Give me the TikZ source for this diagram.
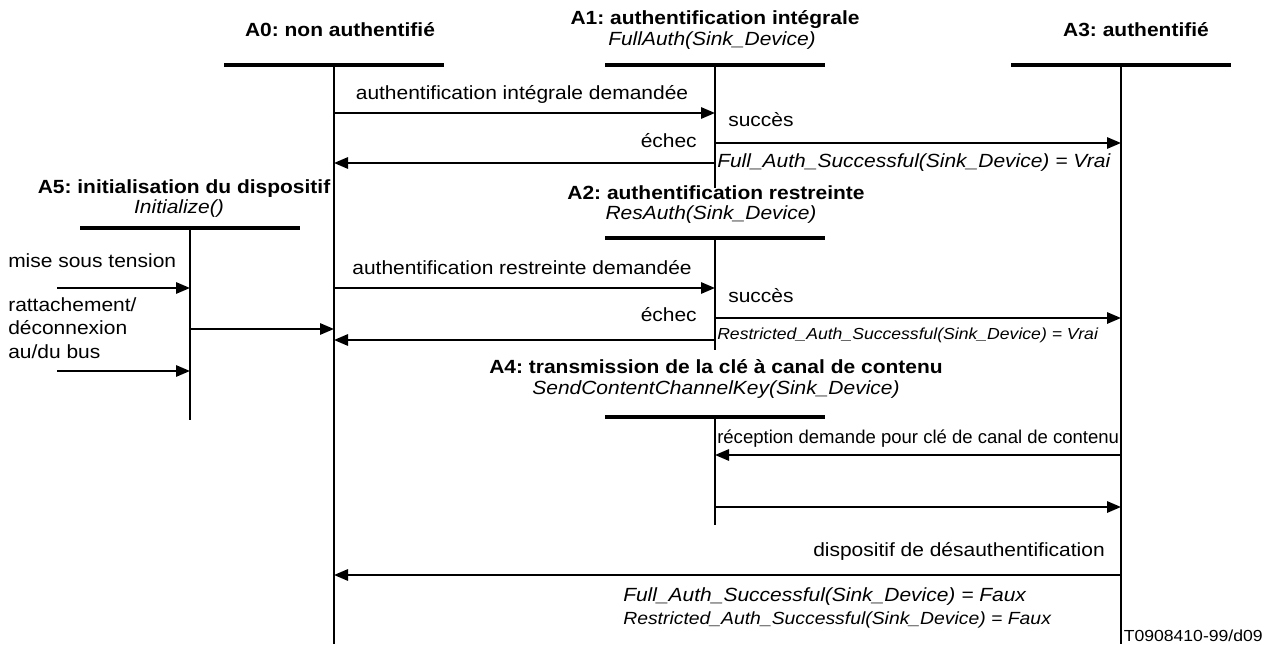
\documentclass[tikz,border=0pt]{standalone}
\usepackage{fontspec}
\setmainfont{Liberation Sans}[FakeStretch=1.1]
\newfontfamily\plainsans{Liberation Sans}
\usetikzlibrary{arrows.meta}
\frenchspacing

\tikzset{
  bar/.style={line width=3.4pt},
  life/.style={line width=1.5pt},
  msg/.style={line width=1.5pt,-{Triangle[length=10.5pt,width=8.5pt]}},
  ttl/.style={font=\fontsize{14.3}{16}\selectfont\bfseries,inner sep=0pt,anchor=base},
  subttl/.style={font=\fontsize{14.3}{16}\selectfont\itshape,inner sep=0pt,anchor=base},
  lab/.style={font=\fontsize{14.3}{16}\selectfont,inner sep=0pt},
  cond/.style={font=\fontsize{14.3}{16}\selectfont\itshape,inner sep=0pt},
  condmid/.style={font=\fontsize{13.2}{16}\selectfont\itshape,inner sep=0pt},
  condsm/.style={font=\fontsize{12}{14}\selectfont\itshape,inner sep=0pt},
  labsm/.style={font=\plainsans\fontsize{13.9}{16}\selectfont,inner sep=0pt},
  figref/.style={font=\fontsize{12}{14}\selectfont,inner sep=0pt},
}

\begin{document}
\begin{tikzpicture}[x=0.75pt,y=-0.75pt]
\useasboundingbox (0,0) rectangle (1265,644);

% state headings
\node[ttl] (t0) at (340,36) {A0: non authentifié};
\node[ttl] (t1) at (715,24) {A1: authentification intégrale};
\node[subttl] (s1) at (712,45) {FullAuth(Sink\_Device)};
\node[ttl] (t3) at (1136,36) {A3: authentifié};
\node[ttl] (t5) at (184,193) {A5: initialisation du dispositif};
\node[subttl] (s5) at (179,213) {Initialize()};
\node[ttl] (t2) at (716,199) {A2: authentification restreinte};
\node[subttl] (s2) at (711,219) {ResAuth(Sink\_Device)};
\node[ttl] (t4) at (716,373) {A4: transmission de la clé à canal de contenu};
\node[subttl] (s4) at (716,394) {SendContentChannelKey(Sink\_Device)};

% state bars
\draw[bar] (224,65) -- (444,65);
\draw[bar] (605,65) -- (825,65);
\draw[bar] (1011,65) -- (1231,65);
\draw[bar] (80,228) -- (300,228);
\draw[bar] (605,238) -- (825,238);
\draw[bar] (605,417) -- (825,417);

% lifelines
\coordinate (a0top) at (334,65);  \coordinate (a0bot) at (334,644);
\coordinate (a1top) at (715,65);  \coordinate (a1bot) at (715,188);
\coordinate (a3top) at (1121,65); \coordinate (a3bot) at (1121,644);
\coordinate (a5top) at (190,228); \coordinate (a5bot) at (190,420);
\coordinate (a2top) at (715,238); \coordinate (a2bot) at (715,350);
\coordinate (a4top) at (715,417); \coordinate (a4bot) at (715,525);
\foreach \s in {a0,a1,a3,a5,a2,a4} \draw[life] (\s top) -- (\s bot);

% message end points
\coordinate (m1a) at (334,113);  \coordinate (m1b) at (715,113);
\coordinate (m2a) at (715,143);  \coordinate (m2b) at (1121,143);
\coordinate (m3a) at (715,163);  \coordinate (m3b) at (334,163);
\coordinate (m4a) at (334,288);  \coordinate (m4b) at (715,288);
\coordinate (m5a) at (715,318);  \coordinate (m5b) at (1121,318);
\coordinate (m6a) at (715,340);  \coordinate (m6b) at (334,340);
\coordinate (p1a) at (57,288);   \coordinate (p1b) at (190,288);
\coordinate (p2a) at (57,371);   \coordinate (p2b) at (190,371);
\coordinate (p3a) at (190,329);  \coordinate (p3b) at (334,329);
\coordinate (m7a) at (1121,455); \coordinate (m7b) at (715,455);
\coordinate (m8a) at (715,507);  \coordinate (m8b) at (1121,507);
\coordinate (m9a) at (1121,575); \coordinate (m9b) at (334,575);

\foreach \m in {m1,m2,m3,m4,m5,m6,p1,p2,p3,m7,m8,m9}
  \draw[msg] (\m a) -- (\m b);

% message labels
\node[lab,anchor=base] (l1) at (522,99) {authentification intégrale demandée};
\node[lab,anchor=base west] (l2) at (728,126) {succès};
\node[cond,anchor=base west] (c2) at (717,167) {Full\_Auth\_Successful(Sink\_Device) = Vrai};
\node[lab,anchor=base east] (l3) at (697,147) {échec};

\node[lab,anchor=base] (l4) at (522,274) {authentification restreinte demandée};
\node[lab,anchor=base west] (l5) at (728,302) {succès};
\node[condsm,anchor=base west] (c5) at (717,339) {Restricted\_Auth\_Successful(Sink\_Device) = Vrai};
\node[lab,anchor=base east] (l6) at (697,321) {échec};

\node[lab,anchor=base west] (lp1) at (8,267) {mise sous tension};
\node[lab,anchor=base west] (lp2a) at (8,311) {rattachement/};
\node[lab,anchor=base west] (lp2b) at (8,334) {déconnexion};
\node[lab,anchor=base west] (lp2c) at (8,358) {au/du bus};

\node[labsm,anchor=base west] (l7) at (717,443) {réception demande pour clé de canal de contenu};

\node[lab,anchor=base east] (l9) at (1105,556) {dispositif de désauthentification};
\node[cond,anchor=base west] (c9a) at (623,601) {Full\_Auth\_Successful(Sink\_Device) = Faux};
\node[condmid,anchor=base west] (c9b) at (623,624) {Restricted\_Auth\_Successful(Sink\_Device) = Faux};

\node[figref,anchor=base east] (fr) at (1263,641) {T0908410-99/d09};
\end{tikzpicture}
\end{document}
